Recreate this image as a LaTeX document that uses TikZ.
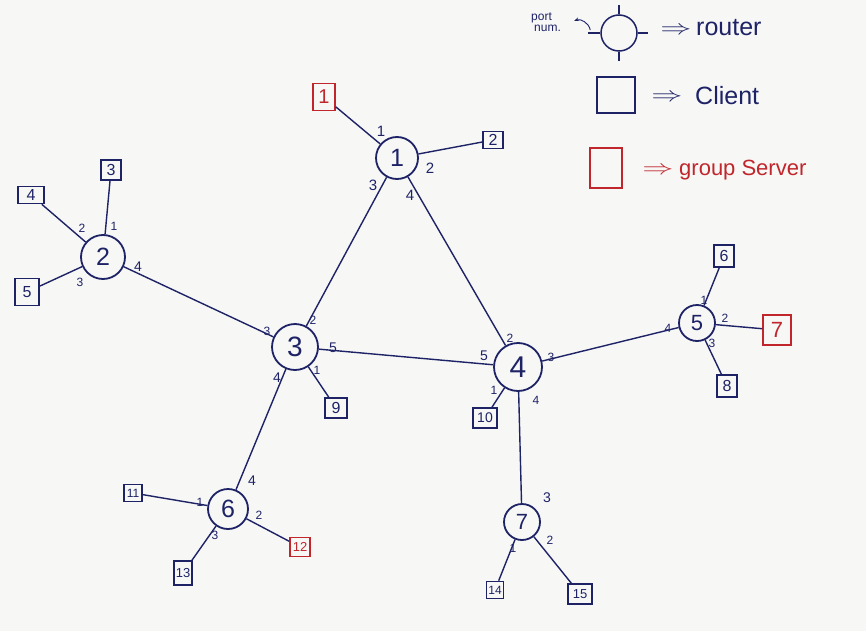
\documentclass[tikz,border=0pt]{standalone}
\usepackage{fontspec}
\setmainfont{Liberation Sans}
\usetikzlibrary{arrows.meta}
\definecolor{ink}{HTML}{1E2366}
\definecolor{redink}{HTML}{C0262B}
\definecolor{paper}{HTML}{F7F7F6}
\begin{document}
\begin{tikzpicture}[x=1pt,y=-1pt,
  router/.style={circle,draw=ink,line width=1.8pt,inner sep=0pt,text=ink,font=\fontsize{25}{25}\selectfont},
  client/.style={rectangle,draw=ink,line width=1.6pt,inner sep=0pt,text=ink,font=\fontsize{16}{16}\selectfont},
  server/.style={client,draw=redink,text=redink},
  port/.style={text=ink,font=\fontsize{12}{12}\selectfont,inner sep=0pt},
  link/.style={draw=ink,line width=1.4pt},
  legendtxt/.style={text=ink,font=\fontsize{25}{25}\selectfont,anchor=west,inner sep=0pt},
  legendarrow/.style={text=ink,font=\fontsize{22}{22}\selectfont,inner sep=0pt}]
\useasboundingbox[fill=paper] (0,0) rectangle (866,631);
% routers
\node[router,minimum size=42pt] (r1) at (397,158) {1};
\node[router,minimum size=44pt] (r2) at (103,257) {2};
\node[router,minimum size=46pt,font=\fontsize{28}{28}\selectfont] (r3) at (295,347) {3};
\node[router,minimum size=48pt,font=\fontsize{30}{30}\selectfont] (r4) at (518,367) {4};
\node[router,minimum size=36pt,font=\fontsize{22}{22}\selectfont] (r5) at (697,323) {5};
\node[router,minimum size=40pt] (r6) at (228,509) {6};
\node[router,minimum size=36pt,font=\fontsize{22}{22}\selectfont] (r7) at (522,522) {7};
% clients
\node[server,minimum width=22pt,minimum height=27pt,font=\fontsize{20}{20}\selectfont] (c1) at (324,97) {1};
\node[client,minimum width=20pt,minimum height=17pt] (c2) at (493,140) {2};
\node[client,minimum width=20pt,minimum height=20pt] (c3) at (111,170) {3};
\node[client,minimum width=26pt,minimum height=17pt] (c4) at (31,195) {4};
\node[client,minimum width=24pt,minimum height=27pt] (c5) at (27,292) {5};
\node[client,minimum width=20pt,minimum height=22pt] (c6) at (724,256) {6};
\node[server,minimum width=28pt,minimum height=30pt,font=\fontsize{22}{22}\selectfont] (c7) at (777,330) {7};
\node[client,minimum width=20pt,minimum height=22pt] (c8) at (727,386) {8};
\node[client,minimum width=22pt,minimum height=20pt] (c9) at (336,408) {9};
\node[client,minimum width=24pt,minimum height=20pt,font=\fontsize{14}{14}\selectfont] (c10) at (485,418) {10};
\node[client,minimum width=18pt,minimum height=17pt,font=\fontsize{12}{12}\selectfont] (c11) at (133,493) {11};
\node[server,minimum width=20pt,minimum height=19pt,font=\fontsize{13}{13}\selectfont] (c12) at (300,547) {12};
\node[client,minimum width=18pt,minimum height=24pt,font=\fontsize{13}{13}\selectfont] (c13) at (183,573) {13};
\node[client,minimum width=17pt,minimum height=17pt,font=\fontsize{12}{12}\selectfont] (c14) at (495,590) {14};
\node[client,minimum width=24pt,minimum height=20pt,font=\fontsize{13}{13}\selectfont] (c15) at (580,594) {15};
% links
\draw[link] (r1) -- (c1);
\draw[link] (r1) -- (c2);
\draw[link] (r1) -- (r3);
\draw[link] (r1) -- (r4);
\draw[link] (r2) -- (c3);
\draw[link] (r2) -- (c4);
\draw[link] (r2) -- (c5);
\draw[link] (r2) -- (r3);
\draw[link] (r3) -- (r4);
\draw[link] (r3) -- (c9);
\draw[link] (r3) -- (r6);
\draw[link] (r4) -- (c10);
\draw[link] (r4) -- (r5);
\draw[link] (r4) -- (r7);
\draw[link] (r5) -- (c6);
\draw[link] (r5) -- (c7);
\draw[link] (r5) -- (c8);
\draw[link] (r6) -- (c11);
\draw[link] (r6) -- (c12);
\draw[link] (r6) -- (c13);
\draw[link] (r7) -- (c14);
\draw[link] (r7) -- (c15);
% port numbers
\node[port,font=\fontsize{15}{15}\selectfont] (p11) at (381,131) {1};
\node[port,font=\fontsize{15}{15}\selectfont] (p12) at (430,168) {2};
\node[port,font=\fontsize{15}{15}\selectfont] (p13) at (373,185) {3};
\node[port,font=\fontsize{15}{15}\selectfont] (p14) at (410,195) {4};
\node[port] (p21) at (114,226) {1};
\node[port] (p22) at (82,228) {2};
\node[port] (p23) at (80,282) {3};
\node[port,font=\fontsize{14}{14}\selectfont] (p24) at (138,267) {4};
\node[port] (p31) at (317,370) {1};
\node[port] (p32) at (313,320) {2};
\node[port] (p33) at (267,331) {3};
\node[port,font=\fontsize{14}{14}\selectfont] (p34) at (277,378) {4};
\node[port,font=\fontsize{14}{14}\selectfont] (p35) at (333,348) {5};
\node[port] (p41) at (494,390) {1};
\node[port] (p42) at (510,338) {2};
\node[port] (p43) at (551,357) {3};
\node[port] (p44) at (536,400) {4};
\node[port,font=\fontsize{14}{14}\selectfont] (p45) at (484,356) {5};
\node[port] (p51) at (704,300) {1};
\node[port] (p52) at (725,318) {2};
\node[port] (p53) at (712,343) {3};
\node[port] (p54) at (668,328) {4};
\node[port] (p61) at (200,502) {1};
\node[port] (p62) at (259,515) {2};
\node[port] (p63) at (215,535) {3};
\node[port,font=\fontsize{14}{14}\selectfont] (p64) at (252,481) {4};
\node[port] (p71) at (513,548) {1};
\node[port] (p72) at (550,540) {2};
\node[port,font=\fontsize{14}{14}\selectfont] (p73) at (547,498) {3};
% legend
\node[router,minimum size=36pt,line width=1.5pt] (lr) at (619,33) {};
\draw[link] (lr.north) -- ++(0,-9) coordinate (ltn);
\draw[link] (lr.east) -- ++(10,0) coordinate (lte);
\draw[link] (lr.south) -- ++(0,9) coordinate (lts);
\draw[link] (lr.west) -- ++(-12,0) coordinate (ltw);
\node[text=ink,font=\fontsize{12}{11}\selectfont,align=left,inner sep=1pt] (portnum) at (546,22) {port\\\hspace*{3pt}num.};
\draw[ink,line width=0.9pt,-{Stealth[length=5pt]}] (ltw) ++(2,-3) coordinate (lta) to[bend right=50] (574,21);
\node[legendarrow] (lra) at (676,31) {\scalebox{1.5}[1]{$\Rightarrow$}};
\node[legendtxt] (lrt) at (696,28) {router};
\node[client,minimum width=38pt,minimum height=36pt] (lc) at (616,95) {};
\node[legendarrow] (lca) at (667,98) {\scalebox{1.5}[1]{$\Rightarrow$}};
\node[legendtxt] (lct) at (695,96) {Client};
\node[server,minimum width=32pt,minimum height=40pt] (ls) at (606,168) {};
\node[legendarrow,text=redink] (lsa) at (658,171) {\scalebox{1.5}[1]{$\Rightarrow$}};
\node[legendtxt,text=redink,font=\fontsize{22}{22}\selectfont] (lst) at (679,170) {group Server};
\end{tikzpicture}
\end{document}
